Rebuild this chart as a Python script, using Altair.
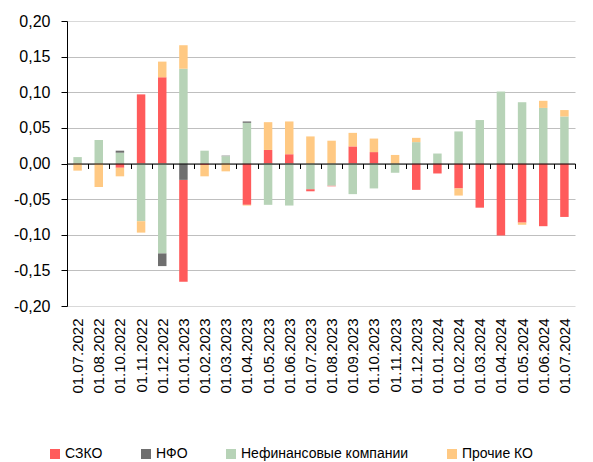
import altair as alt
import pandas as pd

dates = ["01.07.2022", "01.08.2022", "01.10.2022", "01.11.2022", "01.12.2022", "01.01.2023",
         "01.02.2023", "01.03.2023", "01.04.2023", "01.05.2023", "01.06.2023", "01.07.2023",
         "01.08.2023", "01.09.2023", "01.10.2023", "01.11.2023", "01.12.2023", "01.01.2024",
         "01.02.2024", "01.03.2024", "01.04.2024", "01.05.2024", "01.06.2024", "01.07.2024"]

szko = [0, 0, -0.006, 0.097, 0.121, -0.143, -0.002, 0, -0.058, 0.019, 0.013, -0.003,
        -0.001, 0.024, 0.016, 0, -0.037, -0.014, -0.035, -0.062, -0.101, -0.083, -0.088, -0.075]
nfo = [0, 0, 0.003, 0, -0.018, -0.023, 0, 0.001, 0.002, 0, 0, 0,
       0, 0, 0, 0, 0, 0, 0, 0, 0, 0, 0, 0]
nonfin = [0.009, 0.033, 0.015, -0.081, -0.126, 0.133, 0.018, 0.010, 0.057, -0.058, -0.059, -0.036,
          -0.031, -0.043, -0.035, -0.013, 0.030, 0.014, 0.045, 0.061, 0.101, 0.086, 0.078, 0.066]
other = [-0.010, -0.033, -0.012, -0.016, 0.022, 0.033, -0.016, -0.011, -0.001, 0.039, 0.046, 0.038,
         0.032, 0.019, 0.019, 0.012, 0.006, 0, -0.010, 0, 0, -0.003, 0.010, 0.009]

series = ["СЗКО", "НФО", "Нефинансовые компании", "Прочие КО"]
colors = ["#FF5B5B", "#6F6F6F", "#B7D3B7", "#FFC983"]
stack_rank = {"Нефинансовые компании": 0, "НФО": 1, "СЗКО": 2, "Прочие КО": 3}

rows = []
for name, vals in zip(series, [szko, nfo, nonfin, other]):
    for d, v in zip(dates, vals):
        rows.append({"date": d, "series": name, "value": v, "rank": stack_rank[name]})
df = pd.DataFrame(rows)

W, H = 508, 285
font = "Liberation Sans"

chart = alt.Chart(df).mark_bar(width={"band": 0.4}).encode(
    x=alt.X("date:N", sort=dates,
            scale=alt.Scale(paddingInner=0, paddingOuter=0),
            axis=alt.Axis(title=None, labelAngle=-90, orient="bottom", offset=-H / 2,
                          domainColor="black", tickColor="black", tickBand="extent",
                          tickSize=5, labelPadding=H / 2 + 7, labelFontSize=15,
                          labelColor="#000000", labelFont=font, grid=False, zindex=1)),
    y=alt.Y("value:Q", stack="zero",
            scale=alt.Scale(domain=[-0.2, 0.2]),
            axis=alt.Axis(title=None, values=[-0.2, -0.15, -0.1, -0.05, 0, 0.05, 0.1, 0.15, 0.2],
                          labelExpr="replace(replace(format(datum.value, '.2f'), '.', ','), '\u2212', '-')",
                          grid=True,
                          gridColor={"condition": {"test": "abs(datum.value) > 0.19", "value": "#D9D9D9"},
                                     "value": "#BFBFBF"},
                          domainColor="black", tickColor="black", tickSize=6,
                          labelPadding=11, labelFontSize=16, labelColor="#000000",
                          labelFont=font)),
    color=alt.Color("series:N",
                    scale=alt.Scale(domain=series, range=colors),
                    legend=alt.Legend(title=None, orient="none", direction="horizontal",
                                      columns=4, columnPadding=36, symbolType="square",
                                      symbolSize=100, symbolStrokeWidth=0, labelFontSize=14,
                                      labelFont=font, labelColor="#000000", labelOffset=3,
                                      labelLimit=400, legendX=-19, legendY=426)),
    order=alt.Order("rank:Q", sort="ascending"),
).properties(width=W, height=H).configure_view(strokeWidth=0)

chart.save("out.html", embed_options={"renderer": "svg", "actions": False})
